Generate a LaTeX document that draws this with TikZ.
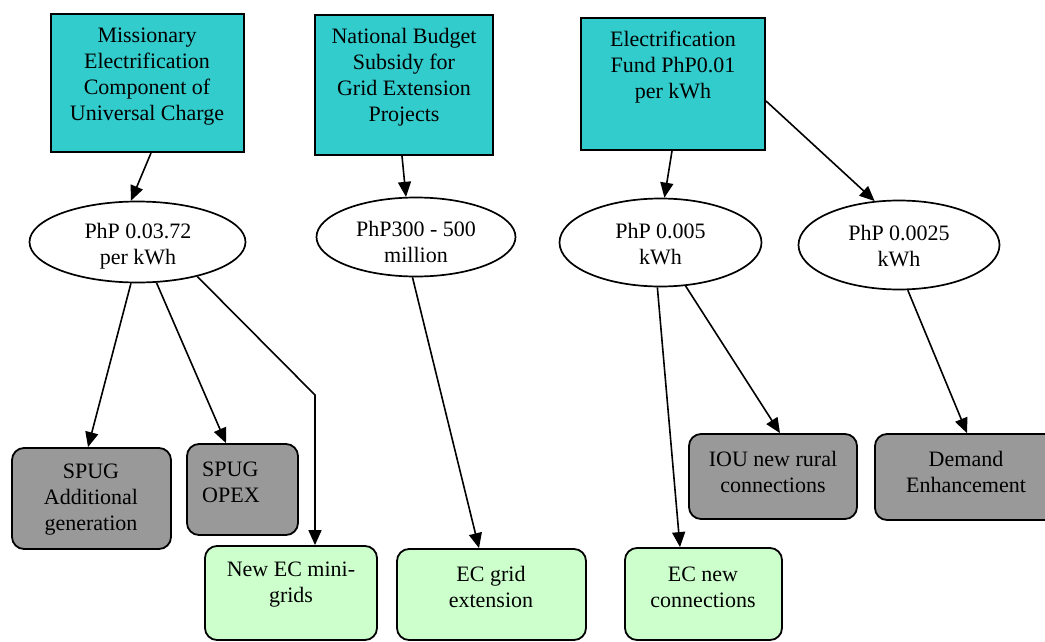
\documentclass[tikz,border=0pt]{standalone}
\usepackage{fontspec}
\setmainfont{Liberation Serif}
\usetikzlibrary{arrows.meta,calc,shapes.geometric}
\definecolor{fundcyan}{HTML}{33CCCC}
\definecolor{spendgray}{HTML}{999999}
\definecolor{ecgreen}{HTML}{CCFFCC}
\tikzset{
  fund/.style={draw=black, line width=2pt, fill=fundcyan, rectangle, inner sep=0pt},
  share/.style={draw=black, line width=1.7pt, fill=white, ellipse, inner sep=0pt},
  usegray/.style={draw=black, line width=1.8pt, fill=spendgray, rectangle, rounded corners=12pt, inner sep=0pt},
  usegreen/.style={draw=black, line width=1.8pt, fill=ecgreen, rectangle, rounded corners=12pt, inner sep=0pt},
  lbl/.style={align=center, inner sep=0pt, font=\fontsize{22}{26}\selectfont},
  flow/.style={line width=1.6pt, -{Triangle[length=15pt,width=13pt]}},
}
\begin{document}
\begin{tikzpicture}[x=1pt,y=-1pt]
\useasboundingbox (0,0) rectangle (1045,642);
\clip (0,0) rectangle (1045,642);

% funding sources
\node[fund, minimum width=193pt, minimum height=138pt] (b1) at (147.5,83) {};
\node[fund, minimum width=178pt, minimum height=140pt] (b2) at (404,85) {};
\node[fund, minimum width=184pt, minimum height=132pt] (b3) at (673,84) {};
\node[lbl] (tb1) at (147,76.5) {Missionary\\Electrification\\Component of\\Universal Charge};
\node[lbl] (tb2) at (404,77) {National Budget\\Subsidy for\\Grid Extension\\Projects};
\node[lbl] (tb3) at (673,67) {Electrification\\Fund PhP0.01\\per kWh};

% amounts
\node[share, minimum width=216pt, minimum height=81pt] (e1) at (137.5,242) {};
\node[share, minimum width=199pt, minimum height=79pt] (e2) at (416,237) {};
\node[share, minimum width=202pt, minimum height=88pt] (e3) at (660.5,242.5) {};
\node[share, minimum width=201pt, minimum height=89pt] (e4) at (899,245) {};
\node[lbl] (te1) at (138,246) {PhP 0.03.72\\per kWh};
\node[lbl] (te2) at (416,242) {PhP300 - 500\\million};
\node[lbl] (te3) at (660.5,244) {PhP 0.005\\kWh};
\node[lbl] (te4) at (899,246) {PhP 0.0025\\kWh};

% uses of funds
\node[usegray, minimum width=159pt, minimum height=101pt] (s1) at (91.5,498.5) {};
\node[usegray, minimum width=111pt, minimum height=91pt] (s2) at (242.5,489.5) {};
\node[usegray, minimum width=168pt, minimum height=85pt] (s3) at (773,476.5) {};
\node[usegray, minimum width=182pt, minimum height=86pt] (s4) at (966,477) {};
\node[usegreen, minimum width=172pt, minimum height=94pt] (g1) at (291,593) {};
\node[usegreen, minimum width=189pt, minimum height=91pt] (g2) at (491.5,594.5) {};
\node[usegreen, minimum width=157pt, minimum height=92pt] (g3) at (703.5,594) {};
\node[lbl] (ts1) at (91,499.5) {SPUG\\Additional\\generation};
\node[lbl, align=left, anchor=west] (ts2) at (202,482) {SPUG\\OPEX};
\node[lbl] (ts3) at (773,471.5) {IOU new rural\\connections};
\node[lbl] (ts4) at (966,471.5) {Demand\\Enhancement};
\node[lbl] (tg1) at (291,585) {New EC mini-\\grids};
\node[lbl] (tg2) at (491,587) {EC grid\\extension};
\node[lbl] (tg3) at (703,587) {EC new\\connections};

% flows
\coordinate (k1) at (315,395);
\draw[flow] ($(b1.south)+(3.5,0)$) -- (e1.99);
\draw[flow] ($(b2.south)+(-2,0)$) -- (e2.104);
\draw[flow] ($(b3.south)+(-1,0)$) -- (e3.85.5);
\draw[flow] ($(b3.east)+(0,17)$) -- (e4.119);
\draw[flow] (e1.261.7) -- ($(s1.north)+(-3.5,0)$);
\draw[flow] (e1.295.2) -- ($(s2.north)+(-16.5,0)$);
\draw[flow] (e1.330.8) -- (k1) -- ($(g1.north)+(24,0)$);
\draw[flow] (e2.265) -- ($(g2.north)+(-12.5,0)$);
\draw[flow] (e3.266.8) -- ($(g3.north)+(-23.5,0)$);
\draw[flow] (e3.300) -- ($(s3.north)+(7,0)$);
\draw[flow] (e4.281.3) -- ($(s4.north)+(1,0)$);
\end{tikzpicture}
\end{document}
